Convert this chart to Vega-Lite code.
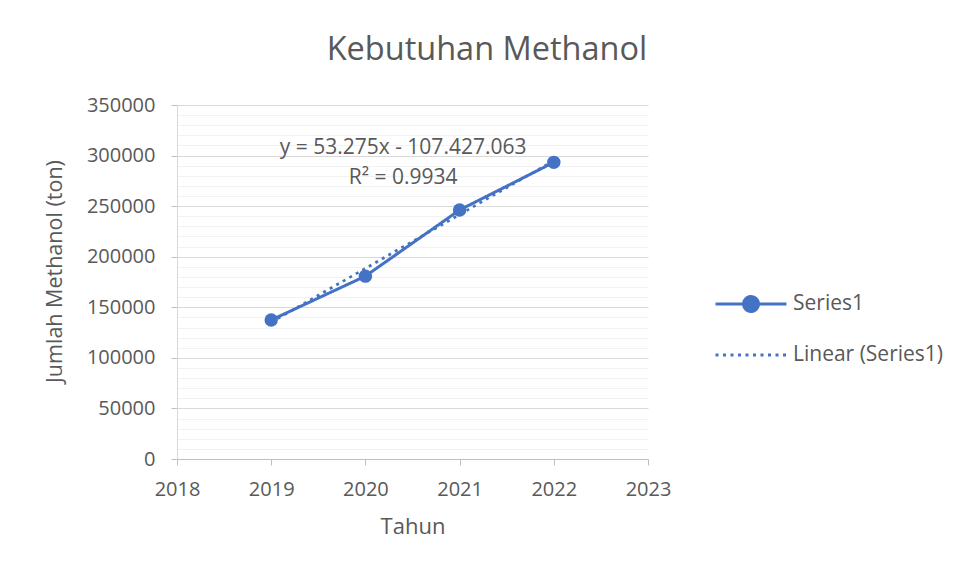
{
  "$schema": "https://vega.github.io/schema/vega-lite/v6.json",
  "width": 471,
  "height": 354,
  "autosize": "none",
  "padding": {"left": 177, "top": 105, "right": 307, "bottom": 113},
  "background": "white",
  "config": {"font": "Open Sans", "view": {"stroke": null}},
  "title": {"text": "Kebutuhan Methanol", "fontSize": 32.5, "font": "Open Sans", "fontWeight": "normal", "color": "#595959", "anchor": "middle", "dx": 74.5, "offset": 29},
  "datasets": {
    "main": [
      {"year": 2019, "value": 137400, "series": "Series1"},
      {"year": 2020, "value": 180800, "series": "Series1"},
      {"year": 2021, "value": 246200, "series": "Series1"},
      {"year": 2022, "value": 293300, "series": "Series1"},
      {"year": 2019, "value": 135162, "series": "Linear (Series1)"},
      {"year": 2022, "value": 294987, "series": "Linear (Series1)"}
    ],
    "labels": [
      {"year": 2020.4, "value": 307000, "label": "y = 53.275x - 107.427.063"},
      {"year": 2020.4, "value": 277500, "label": "R² = 0.9934"}
    ]
  },
  "resolve": {"axis": {"y": "independent"}},
  "layer": [
    {
      "data": {"name": "labels"},
      "mark": {"type": "text", "fontSize": 21, "color": "#595959", "font": "Open Sans", "baseline": "middle", "align": "center"},
      "encoding": {
        "x": {"field": "year", "type": "quantitative", "scale": {"domain": [2018, 2023], "nice": false, "zero": false},
          "axis": {"values": [2018, 2019, 2020, 2021, 2022, 2023], "format": "d", "grid": false, "labelFlush": false, "labelOverlap": false, "tickColor": "#BFBFBF", "tickSize": 6, "domainColor": "#BFBFBF", "labelFontSize": 20, "labelColor": "#595959", "labelPadding": 14, "title": "Tahun", "titleFontSize": 22, "titleFontWeight": "normal", "titleColor": "#595959", "titlePadding": 17}},
        "y": {"field": "value", "type": "quantitative", "scale": {"domain": [0, 350000], "nice": false},
          "axis": {"orient": "right", "values": [10000,20000,30000,40000,60000,70000,80000,90000,110000,120000,130000,140000,160000,170000,180000,190000,210000,220000,230000,240000,260000,270000,280000,290000,310000,320000,330000,340000], "grid": true, "gridColor": "#F2F2F2", "gridWidth": 1, "labels": false, "ticks": false, "domain": false, "title": null}},
        "text": {"field": "label", "type": "nominal"}
      }
    },
    {
      "data": {"name": "main"},
      "transform": [{"filter": "datum.series === 'Series1'"}],
      "mark": {"type": "line", "strokeWidth": 3, "point": {"filled": true, "size": 180}},
      "encoding": {
        "x": {"field": "year", "type": "quantitative"},
        "y": {"field": "value", "type": "quantitative",
          "axis": {"values": [0, 50000, 100000, 150000, 200000, 250000, 300000, 350000], "format": "d", "grid": true, "gridColor": "#D9D9D9", "tickColor": "#BFBFBF", "tickSize": 6, "domainColor": "#D9D9D9", "labelFontSize": 20, "labelColor": "#595959", "labelPadding": 16, "title": "Jumlah Methanol (ton)", "titleFontSize": 21.5, "titleFontWeight": "normal", "titleColor": "#595959", "titleAngle": 270, "titleAlign": "center", "titleBaseline": "middle", "titleX": -122, "titleY": 166}},
        "color": {"field": "series", "type": "nominal", "scale": {"domain": ["Series1", "Linear (Series1)"], "range": ["#4472C4", "#4472C4"]},
          "legend": {"orient": "none", "legendX": 537, "legendY": 162, "title": null, "labelFontSize": 21, "labelColor": "#595959", "labelFont": "Open Sans", "labelOffset": 5, "symbolType": "stroke", "symbolSize": 5041, "symbolStrokeWidth": 3, "rowPadding": 0,
            "encode": {"symbols": {"update": {
              "shape": [{"test": "datum.value === 'Series1'", "value": "M-1,0H1M0.21,0A0.21,0.21,0,1,1,-0.21,0A0.21,0.21,0,1,1,0.21,0Z"}, {"value": "stroke"}],
              "fill": [{"test": "datum.value === 'Series1'", "value": "#4472C4"}, {"value": "transparent"}]
            }}}}},
        "strokeDash": {"field": "series", "type": "nominal", "scale": {"domain": ["Series1", "Linear (Series1)"], "range": [[1, 0], [3, 4.5]]}}
      }
    },
    {
      "data": {"name": "main"},
      "transform": [{"filter": "datum.series === 'Linear (Series1)'"}],
      "mark": {"type": "line", "strokeWidth": 2.75},
      "encoding": {
        "x": {"field": "year", "type": "quantitative"},
        "y": {"field": "value", "type": "quantitative", "axis": null},
        "color": {"field": "series", "type": "nominal"},
        "strokeDash": {"field": "series", "type": "nominal"}
      }
    }
  ]
}
